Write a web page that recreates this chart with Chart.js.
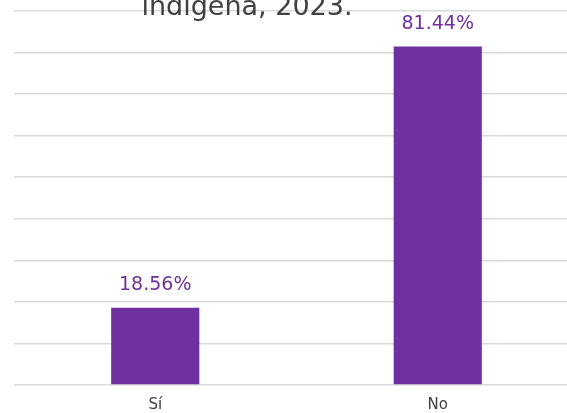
<!DOCTYPE html>
<html>
<head>
<meta charset="utf-8">
<script src="https://cdn.jsdelivr.net/npm/chart.js@4.4.0/dist/chart.umd.min.js"></script>
<style>
  html, body { margin: 0; padding: 0; overflow: hidden; background: #fff; }
  #wrap { position: relative; width: 579px; height: 417px; }
</style>
</head>
<body>
<div id="wrap"><canvas id="chart"></canvas></div>
<script>
// datos
var categorias = ["Sí", "No"];
var porcentajes = [18.56, 81.44];
var titulo = "indígena, 2023.";

var purple = "#7030A0";

// texto del titulo (recortado arriba en la imagen original)
var titlePlugin = {
    id: 'titleText',
    afterDraw: function(chart) {
        var ctx = chart.ctx;
        ctx.save();
        ctx.font = '27px "DejaVu Sans"';
        ctx.fillStyle = '#404040';
        ctx.textAlign = 'center';
        ctx.textBaseline = 'alphabetic';
        ctx.fillText(titulo, 247, 15);
        ctx.restore();
    }
};

// etiquetas de valor encima de las barras
var valuePlugin = {
    id: 'valueLabels',
    afterDatasetsDraw: function(chart) {
        var ctx = chart.ctx;
        var meta = chart.getDatasetMeta(0);
        ctx.save();
        ctx.font = '19px "DejaVu Sans"';
        ctx.fillStyle = purple;
        ctx.textAlign = 'center';
        ctx.textBaseline = 'alphabetic';
        meta.data.forEach(function(bar, i) {
            ctx.fillText(porcentajes[i].toFixed(2) + '%', bar.x, bar.y - 18);
        });
        ctx.restore();
    }
};

var ctx = document.getElementById("chart").getContext('2d');
var myChart = new Chart(ctx, {
    type: 'bar',
    data: {
        labels: categorias,
        datasets: [{
            data: porcentajes,
            backgroundColor: purple,
            borderWidth: 0,
            categoryPercentage: 1,
            barPercentage: 0.312
        }]
    },
    options: {
        responsive: true,
        maintainAspectRatio: false,
        animation: false,
        layout: { padding: { left: 14, top: 11, right: 0, bottom: 0 } },
        plugins: {
            legend: { display: false },
            tooltip: { enabled: false },
            title: { display: false }
        },
        scales: {
            y: {
                min: 0,
                max: 90,
                ticks: { display: false, stepSize: 10 },
                border: { display: false },
                grid: { color: '#d9d9d9', lineWidth: 1.5, drawTicks: false }
            },
            x: {
                border: { display: false },
                grid: { display: false },
                ticks: {
                    color: '#404040',
                    padding: 3,
                    font: { family: '"DejaVu Sans"', size: 15 }
                }
            }
        }
    },
    plugins: [titlePlugin, valuePlugin]
});
</script>
</body>
</html>
